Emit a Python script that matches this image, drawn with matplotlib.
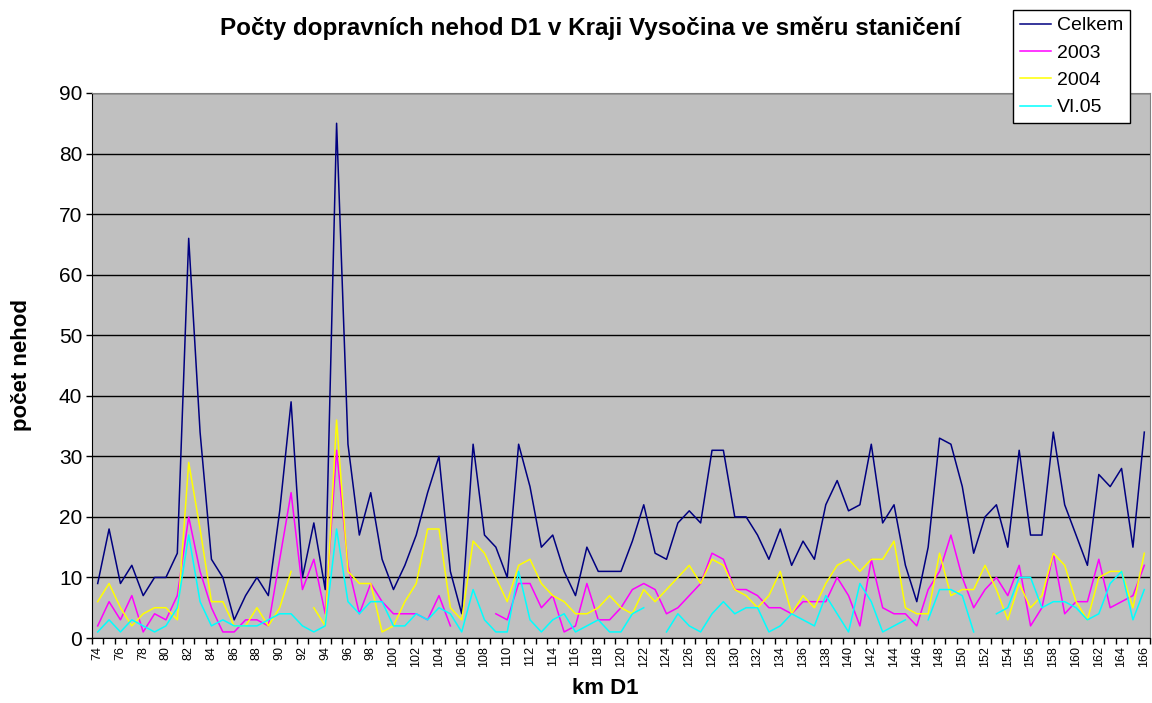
import numpy as np
import matplotlib
matplotlib.use('Agg')
import matplotlib.pyplot as plt
from matplotlib.ticker import MultipleLocator, FixedLocator

plt.rcParams['font.family'] = ['Liberation Sans', 'DejaVu Sans']

nan = np.nan
km = list(range(74, 167))

celkem = [9, 18, 9, 12, 7, 10, 10, 14, 66, 34,
          13, 10, 3, 7, 10, 7, 21, 39, 10, 19,
          8, 85, 32, 17, 24, 13, 8, 12, 17, 24,
          30, 11, 4, 32, 17, 15, 10, 32, 25, 15,
          17, 11, 7, 15, 11, 11, 11, 16, 22, 14,
          13, 19, 21, 19, 31, 31, 20, 20, 17, 13,
          18, 12, 16, 13, 22, 26, 21, 22, 32, 19,
          22, 12, 6, 15, 33, 32, 25, 14, 20, 22,
          15, 31, 17, 17, 34, 22, 17, 12, 27, 25,
          28, 15, 34]

r2003 = [2, 6, 3, 7, 1, 4, 3, 7, 20, 11,
         5, 1, 1, 3, 3, 2, 13, 24, 8, 13,
         4, 31, 12, 4, 9, 6, 4, 4, 4, 3,
         7, 2, nan, nan, nan, 4, 3, 9, 9, 5,
         7, 1, 2, 9, 3, 3, 5, 8, 9, 8,
         4, 5, 7, 9, 14, 13, 8, 8, 7, 5,
         5, 4, 6, 6, 6, 10, 7, 2, 13, 5,
         4, 4, 2, 8, 11, 17, 10, 5, 8, 10,
         7, 12, 2, 5, 14, 4, 6, 6, 13, 5,
         6, 7, 12]

r2004 = [6, 9, 5, 2, 4, 5, 5, 3, 29, 18,
         6, 6, 2, 2, 5, 2, 5, 11, nan, 5,
         2, 36, 11, 9, 9, 1, 2, 6, 9, 18,
         18, 5, 3, 16, 14, 10, 6, 12, 13, 9,
         7, 6, 4, 4, 5, 7, 5, 4, 8, 6,
         8, 10, 12, 9, 13, 12, 8, 7, 5, 7,
         11, 4, 7, 5, 9, 12, 13, 11, 13, 13,
         16, 5, 4, 4, 14, 7, 8, 8, 12, 8,
         3, 9, 5, 7, 14, 12, 6, 3, 10, 11,
         11, 5, 14]

vi05 = [1, 3, 1, 3, 2, 1, 2, 5, 17, 6,
        2, 3, 2, 2, 2, 3, 4, 4, 2, 1,
        2, 18, 6, 4, 6, 6, 2, 2, 4, 3,
        5, 4, 1, 8, 3, 1, 1, 11, 3, 1,
        3, 4, 1, 2, 3, 1, 1, 4, 5, nan,
        1, 4, 2, 1, 4, 6, 4, 5, 5, 1,
        2, 4, 3, 2, 7, 4, 1, 9, 6, 1,
        2, 3, nan, 3, 8, 8, 7, 1, nan, 4,
        5, 10, 10, 5, 6, 6, 5, 3, 4, 9,
        11, 3, 8]

series = [('Celkem', celkem, '#000080'),
          ('2003', r2003, '#FF00FF'),
          ('2004', r2004, '#FFFF00'),
          ('VI.05', vi05, '#00FFFF')]

fig = plt.figure(figsize=(11.52, 7.03), dpi=100)
ax = fig.add_axes([92 / 1152, 1 - 638 / 703, (1150 - 92) / 1152, (638 - 93) / 703])
ax.set_facecolor('#C0C0C0')

for name, vals, col in series:
    ax.plot(km, vals, color=col, lw=1.1, label=name)

ax.set_xlim(73.5, 166.5)
ax.set_ylim(0, 90)
ax.yaxis.set_major_locator(MultipleLocator(10))
ax.grid(axis='y', color='black', lw=1)
ax.set_axisbelow(True)

ax.xaxis.set_major_locator(FixedLocator(km[::2]))
ax.xaxis.set_minor_locator(FixedLocator(np.arange(73.5, 167, 1)))
ax.tick_params(axis='x', which='major', length=0, labelsize=9, labelrotation=90, pad=6)
ax.tick_params(axis='x', which='minor', length=4, width=1, color='black')
ax.tick_params(axis='y', labelsize=15, length=4, width=1, pad=3)

for s in ['top', 'right']:
    ax.spines[s].set_color('#808080')
for s in ['left', 'bottom']:
    ax.spines[s].set_color('black')

fig.text(22 / 1152, 1 - 365 / 703, 'počet nehod', fontsize=16, fontweight='bold',
         rotation=90, ha='center', va='center')
fig.text(605 / 1152, 1 - 689 / 703, 'km D1', fontsize=16, fontweight='bold', ha='center', va='center')
fig.text(590 / 1152, 1 - 28 / 703, 'Počty dopravních nehod D1 v Kraji Vysočina ve směru staničení',
         fontsize=17.5, fontweight='bold', ha='center', va='center')

leg = fig.legend(loc='upper left', bbox_to_anchor=(1013 / 1152, 1 - 10 / 703),
                 fontsize=14, frameon=True, fancybox=False, edgecolor='black',
                 borderaxespad=0, handlelength=1.6, labelspacing=0.5, borderpad=0.35,
                 handletextpad=0.3)
leg.get_frame().set_linewidth(1)
leg.get_frame().set_alpha(1)

fig.savefig('out.png', dpi=100, facecolor='white')
